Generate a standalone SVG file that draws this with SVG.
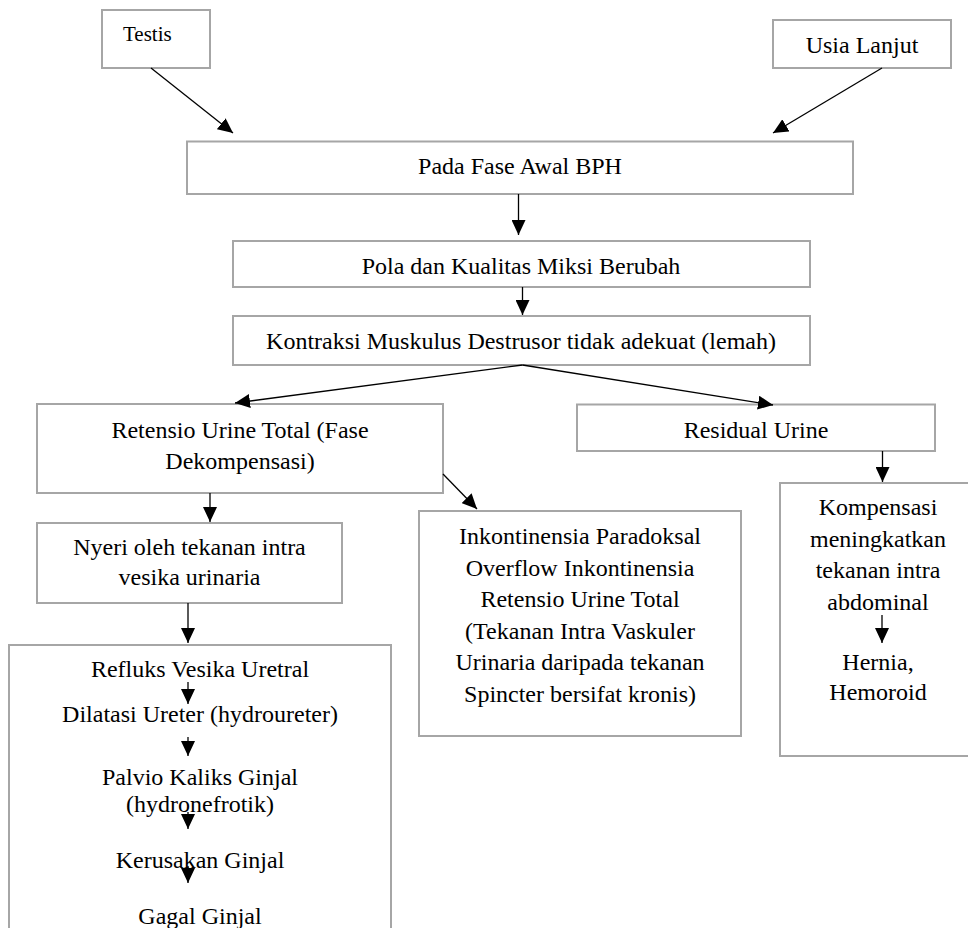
<svg xmlns="http://www.w3.org/2000/svg" width="968" height="928" viewBox="0 0 968 928">
<defs>
<marker id="ah" viewBox="0 0 15 14" refX="15" refY="7" markerWidth="15" markerHeight="14" markerUnits="userSpaceOnUse" orient="auto">
<path d="M0,0 L15,7 L0,14 Z" fill="#000"/>
</marker>
<style>
.box{fill:#fff;stroke:#a6a6a6;stroke-width:2}
.t{font-family:"Liberation Serif","Times New Roman",serif;font-size:24px;fill:#000;text-anchor:middle}
.c line{stroke:#000;stroke-width:1.3;marker-end:url(#ah)}
</style>
</defs>
<rect width="968" height="928" fill="#fff"/>
<g id="testis"><rect class="box" x="102" y="10" width="108" height="58"/><text class="t" x="123" y="41" style="text-anchor:start;font-size:21px">Testis</text></g>
<g id="usia"><rect class="box" x="773" y="20" width="178" height="48"/><text class="t" x="862" y="53">Usia Lanjut</text></g>
<g id="pada"><rect class="box" x="187" y="141.5" width="666" height="52.5"/><text class="t" x="520" y="174">Pada Fase Awal BPH</text></g>
<g id="pola"><rect class="box" x="233" y="241" width="577" height="46"/><text class="t" x="521" y="274">Pola dan Kualitas Miksi Berubah</text></g>
<g id="kontraksi"><rect class="box" x="233" y="316" width="577" height="49"/><text class="t" x="521" y="349">Kontraksi Muskulus Destrusor tidak adekuat (lemah)</text></g>
<g id="retensio"><rect class="box" x="37" y="404" width="406" height="89"/><text class="t"><tspan x="240" y="438">Retensio Urine Total (Fase</tspan><tspan x="240" y="469">Dekompensasi)</tspan></text></g>
<g id="residual"><rect class="box" x="577" y="404.5" width="358" height="46.5"/><text class="t" x="756" y="438">Residual Urine</text></g>
<g id="nyeri"><rect class="box" x="37" y="523" width="305" height="80"/><text class="t"><tspan x="189.5" y="555">Nyeri oleh tekanan intra</tspan><tspan x="189.5" y="585">vesika urinaria</tspan></text></g>
<g id="inkontinensia"><rect class="box" x="419" y="511" width="322" height="225"/><text class="t"><tspan x="580" y="544">Inkontinensia Paradoksal</tspan><tspan x="580" y="575.5">Overflow Inkontinensia</tspan><tspan x="580" y="607">Retensio Urine Total</tspan><tspan x="580" y="638.5">(Tekanan Intra Vaskuler</tspan><tspan x="580" y="670">Urinaria daripada tekanan</tspan><tspan x="580" y="701.5">Spincter bersifat kronis)</tspan></text></g>
<g id="kompensasi"><rect class="box" x="780" y="483" width="196" height="273"/><text class="t"><tspan x="878" y="515">Kompensasi</tspan><tspan x="878" y="546.5">meningkatkan</tspan><tspan x="878" y="578">tekanan intra</tspan><tspan x="878" y="610">abdominal</tspan><tspan x="878" y="670">Hernia,</tspan><tspan x="878" y="700">Hemoroid</tspan></text></g>
<g id="ginjal"><rect class="box" x="9" y="645" width="382" height="300"/><text class="t"><tspan x="200" y="677">Refluks Vesika Uretral</tspan><tspan x="200" y="722">Dilatasi Ureter (hydroureter)</tspan><tspan x="200" y="785">Palvio Kaliks Ginjal</tspan><tspan x="200" y="812">(hydronefrotik)</tspan><tspan x="200" y="868">Kerusakan Ginjal</tspan><tspan x="200" y="924">Gagal Ginjal</tspan></text></g>
<g id="connectors" class="c">
<line x1="151" y1="68" x2="233" y2="133"/>
<line x1="882" y1="68" x2="773" y2="133"/>
<line x1="518.5" y1="194" x2="518.5" y2="235"/>
<line x1="522.5" y1="287" x2="522.5" y2="315"/>
<line x1="522.5" y1="365" x2="235" y2="403"/>
<line x1="522.5" y1="365" x2="773" y2="405"/>
<line x1="443" y1="474" x2="477" y2="509"/>
<line x1="210" y1="493" x2="210" y2="522"/>
<line x1="882.5" y1="451" x2="882.5" y2="482"/>
<line x1="188" y1="603" x2="188" y2="643"/>
<line x1="882" y1="615" x2="882" y2="643"/>
<line x1="188" y1="682" x2="188" y2="704"/>
<line x1="188" y1="737" x2="188" y2="756"/>
<line x1="188" y1="812" x2="188" y2="829"/>
<line x1="188" y1="866" x2="188" y2="883"/>
</g>
</svg>
